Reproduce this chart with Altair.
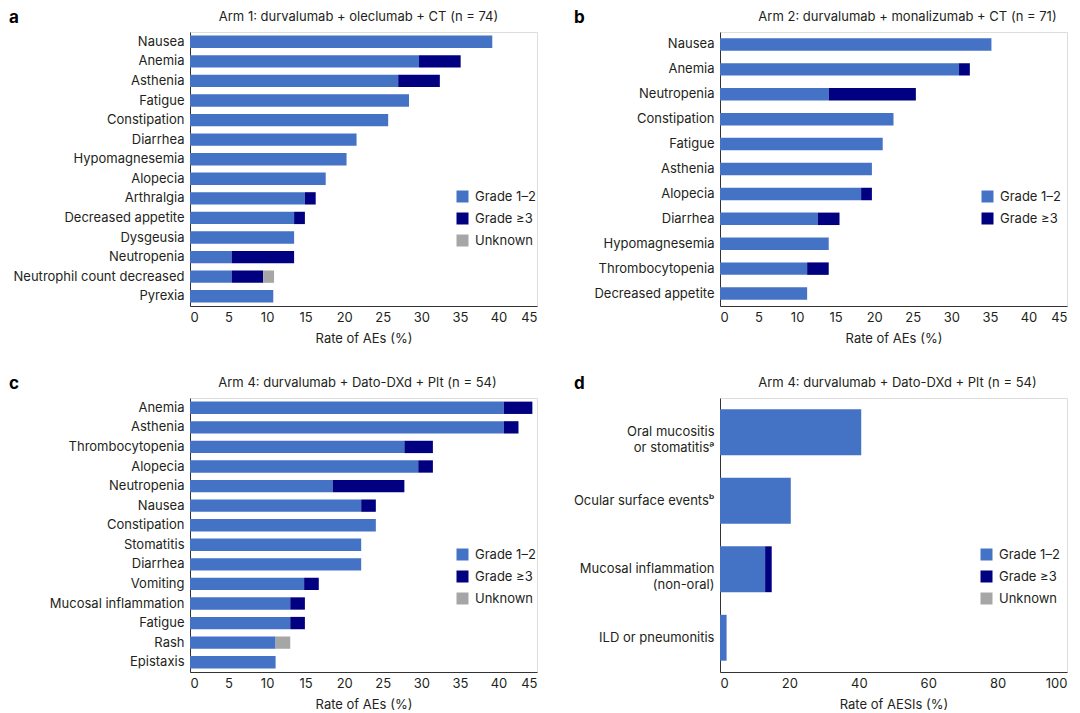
import altair as alt
import pandas as pd

GRADES = ["Grade 1–2", "Grade ≥3", "Unknown"]
COLORS = ["#4472C4", "#000080", "#A6A6A6"]

ae_ticks = [0, 5, 10, 15, 20, 25, 30, 35, 40, 45]
aesi_ticks = [0, 20, 40, 60, 80, 100]

# Panel a: Arm 1 (n = 74)
a_cats = ["Nausea", "Anemia", "Asthenia", "Fatigue", "Constipation", "Diarrhea",
          "Hypomagnesemia", "Alopecia", "Arthralgia", "Decreased appetite", "Dysgeusia",
          "Neutropenia", "Neutrophil count decreased", "Pyrexia"]
a_g12 = [39.2, 29.7, 27.0, 28.4, 25.7, 21.6, 20.3, 17.6, 14.9, 13.5, 13.5, 5.4, 5.4, 10.8]
a_g3 = [0, 5.4, 5.4, 0, 0, 0, 0, 0, 1.4, 1.4, 0, 8.1, 4.1, 0]
a_unk = [0, 0, 0, 0, 0, 0, 0, 0, 0, 0, 0, 0, 1.4, 0]

# Panel b: Arm 2 (n = 71)
b_cats = ["Nausea", "Anemia", "Neutropenia", "Constipation", "Fatigue", "Asthenia",
          "Alopecia", "Diarrhea", "Hypomagnesemia", "Thrombocytopenia", "Decreased appetite"]
b_g12 = [35.2, 31.0, 14.1, 22.5, 21.1, 19.7, 18.3, 12.7, 14.1, 11.3, 11.3]
b_g3 = [0, 1.4, 11.3, 0, 0, 0, 1.4, 2.8, 0, 2.8, 0]
b_unk = [0, 0, 0, 0, 0, 0, 0, 0, 0, 0, 0]

# Panel c: Arm 4 (n = 54)
c_cats = ["Anemia", "Asthenia", "Thrombocytopenia", "Alopecia", "Neutropenia", "Nausea",
          "Constipation", "Stomatitis", "Diarrhea", "Vomiting", "Mucosal inflammation",
          "Fatigue", "Rash", "Epistaxis"]
c_g12 = [40.7, 40.7, 27.8, 29.6, 18.5, 22.2, 24.1, 22.2, 22.2, 14.8, 13.0, 13.0, 11.1, 11.1]
c_g3 = [3.7, 1.9, 3.7, 1.9, 9.3, 1.9, 0, 0, 0, 1.9, 1.9, 1.9, 0, 0]
c_unk = [0, 0, 0, 0, 0, 0, 0, 0, 0, 0, 0, 0, 1.9, 0]

# Panel d: Arm 4 AESIs (n = 54)
d_cats = ["Oral mucositis\nor stomatitisᵃ", "Ocular surface eventsᵇ",
          "Mucosal inflammation\n(non-oral)", "ILD or pneumonitis"]
d_g12 = [40.7, 20.4, 13.0, 1.9]
d_g3 = [0, 0, 1.9, 0]
d_unk = [0, 0, 0, 0]

titles = ["Arm 1: durvalumab + oleclumab + CT (n = 74)",
          "Arm 2: durvalumab + monalizumab + CT (n = 71)",
          "Arm 4: durvalumab + Dato-DXd + Plt (n = 54)",
          "Arm 4: durvalumab + Dato-DXd + Plt (n = 54)"]
letters = ["a", "b", "c", "d"]

FONT = "Inter"
TXT = "#231F20"
W, H = 347, 274


def long_df(cats, g12, g3, unk):
    rows = []
    for c, v1, v2, v3 in zip(cats, g12, g3, unk):
        for i, (g, v) in enumerate(zip(GRADES, [v1, v2, v3])):
            if v > 0:
                rows.append({"cat": c, "grade": g, "ord": i, "val": v})
    return pd.DataFrame(rows)


def panel(cats, g12, g3, unk, title, letter, xmax, ticks, xtitle, ngrades,
          pad_inner, lx, ly, letter_x, title_dx):
    df = long_df(cats, g12, g3, unk)
    bars = alt.Chart(df).mark_bar().encode(
        x=alt.X("val:Q", stack="zero",
                scale=alt.Scale(domain=[0, xmax], nice=False),
                axis=alt.Axis(values=ticks, title=xtitle, ticks=False, grid=False,
                              labelPadding=5, titlePadding=8.5, labelFontSize=13,
                              titleFontSize=13, titleFontWeight="normal",
                              domainColor="#333333", labelColor=TXT, titleColor=TXT)),
        y=alt.Y("cat:N", sort=cats, title=None,
                scale=alt.Scale(paddingInner=pad_inner),
                axis=alt.Axis(ticks=False, labelPadding=6, labelFontSize=13,
                              labelColor=TXT, domainColor="#333333", labelLimit=400,
                              labelLineHeight=16,
                              labelExpr="split(datum.label, '\\n')")),
        color=alt.Color("grade:N",
                        scale=alt.Scale(domain=GRADES[:ngrades], range=COLORS[:ngrades]),
                        legend=alt.Legend(orient="none", legendX=lx, legendY=ly, title=None,
                                          symbolType="square", symbolSize=144,
                                          symbolStrokeWidth=0, symbolOpacity=1,
                                          labelFontSize=13, rowPadding=8, labelOffset=6,
                                          labelColor=TXT)),
        order=alt.Order("ord:Q", sort="ascending"),
    )
    lab = alt.Chart(pd.DataFrame({"t": [letter]})).mark_text(
        fontSize=17, fontWeight="bold", align="left", baseline="top", color="#000000"
    ).encode(text="t:N", x=alt.value(letter_x), y=alt.value(-22))
    ttl = alt.Chart(pd.DataFrame({"t": [title]})).mark_text(
        fontSize=13, align="center", baseline="middle", color=TXT
    ).encode(text="t:N", x=alt.value(W / 2 + title_dx), y=alt.value(-15))
    return alt.layer(bars, lab, ttl).properties(width=W, height=H)


pa = panel(a_cats, a_g12, a_g3, a_unk, titles[0], letters[0],
           45, ae_ticks, "Rate of AEs (%)", 3, 0.37, 266, 158, -181, -5)
pb = panel(b_cats, b_g12, b_g3, b_unk, titles[1], letters[1],
           45, ae_ticks, "Rate of AEs (%)", 2, 0.5, 261, 158, -146, 14)
pc = panel(c_cats, c_g12, c_g3, c_unk, titles[2], letters[2],
           45, ae_ticks, "Rate of AEs (%)", 3, 0.37, 266, 150, -181, -6)
pd_ = panel(d_cats, d_g12, d_g3, d_unk, titles[3], letters[3],
            100, aesi_ticks, "Rate of AESIs (%)", 3, 0.33, 260, 150, -146, 4)

chart = alt.concat(pa, pb, pc, pd_, columns=2, spacing={"column": 34, "row": 28}).properties(
    align="each", padding={"left": 0, "top": 0, "right": 0, "bottom": 0}
).resolve_scale(
    color="independent", x="independent", y="independent"
).resolve_legend(color="independent").configure_view(stroke=None).configure(
    font=FONT
)

chart.save("out.html", embed_options={"renderer": "svg", "actions": False})
